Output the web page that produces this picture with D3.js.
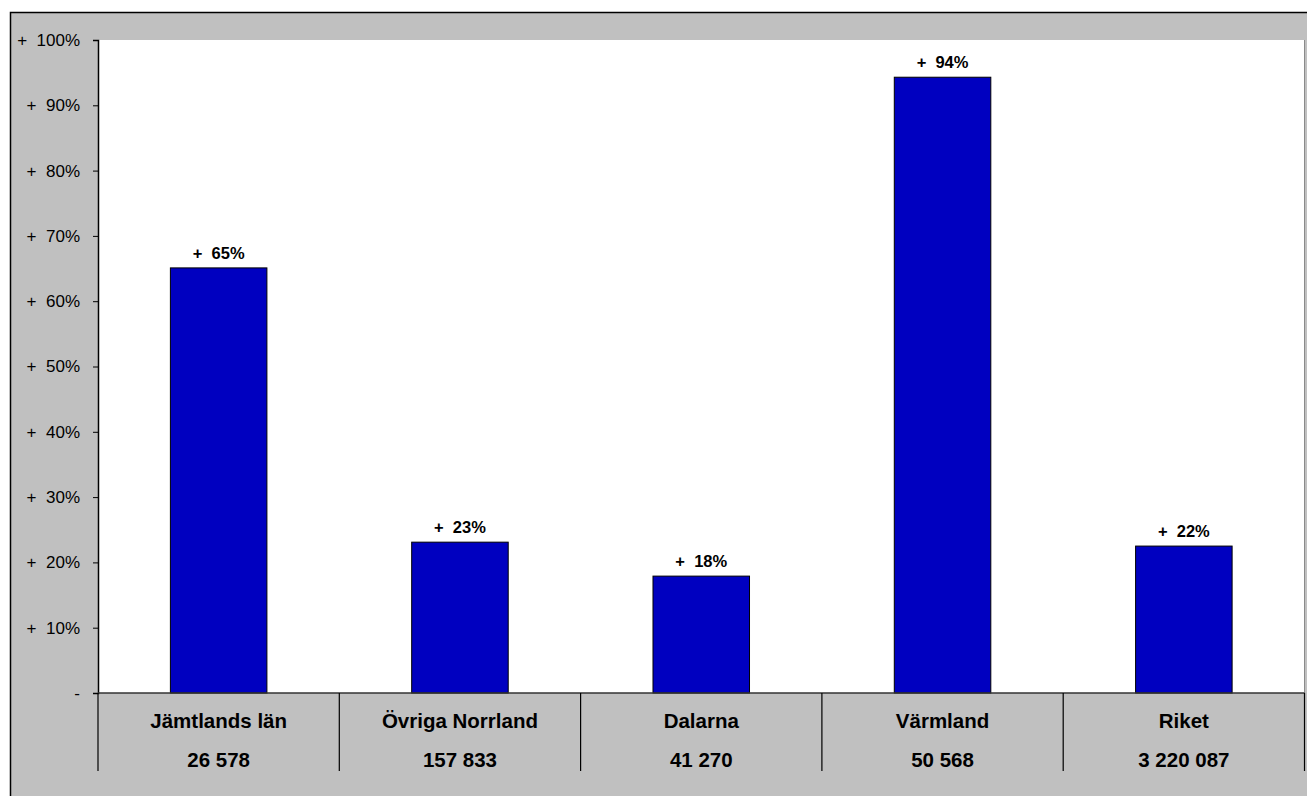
<!DOCTYPE html>
<html lang="en">
<head>
<meta charset="utf-8">
<title>Förändring per region</title>
<script src="https://d3js.org/d3.v7.min.js"></script>
<style>
  body { margin: 0; background: #fff; }
  text { font-family: Arial, "Liberation Sans", sans-serif; }
</style>
</head>
<body>
<script>
// data
var regions = ["Jämtlands län", "Övriga Norrland", "Dalarna", "Värmland", "Riket"];
var counts = ["26 578", "157 833", "41 270", "50 568", "3 220 087"];
var change = [65.1, 23.1, 17.9, 94.3, 22.5];
var changeLabels = ["+ 65%", "+ 23%", "+ 18%", "+ 94%", "+ 22%"];
var yTicks = [0, 10, 20, 30, 40, 50, 60, 70, 80, 90, 100];

var width = 1307, height = 796;
var plot = { left: 98, right: 1304.5, top: 40, bottom: 693 };

var svg = d3.select("body").append("svg")
    .attr("width", width)
    .attr("height", height);

// outer grey frame
svg.append("rect")
    .attr("x", 10.5).attr("y", 12.5)
    .attr("width", width).attr("height", height)
    .attr("fill", "#c0c0c0")
    .attr("stroke", "#000").attr("stroke-width", 1.5);

// plot area
svg.append("rect")
    .attr("x", plot.left).attr("y", plot.top)
    .attr("width", plot.right - plot.left)
    .attr("height", plot.bottom - plot.top)
    .attr("fill", "#fff");
svg.append("line")
    .attr("x1", plot.right).attr("x2", plot.right)
    .attr("y1", plot.top).attr("y2", plot.bottom)
    .attr("stroke", "#8a8a8a").attr("stroke-width", 1);

var x = d3.scaleBand().domain(regions).range([plot.left, plot.right]).paddingInner(0).paddingOuter(0);
var y = d3.scaleLinear().domain([0, 100]).range([plot.bottom, plot.top]);

// y axis
var yAxis = d3.axisLeft(y)
    .tickValues(yTicks)
    .tickSize(5)
    .tickPadding(13)
    .tickFormat(function(d) { return d === 0 ? "-" : "+  " + d + "%"; });

var gy = svg.append("g")
    .attr("transform", "translate(" + plot.left + ",0)")
    .call(yAxis);
gy.select(".domain").attr("stroke", "#000").attr("stroke-width", 1.5);
gy.selectAll(".tick line").attr("stroke", "#000");
gy.selectAll(".tick text")
    .attr("font-size", 17)
    .attr("fill", "#000")
    .attr("xml:space", "preserve")
    .style("white-space", "pre");

// bars
var barW = x.bandwidth() * 0.4;
svg.selectAll("rect.bar")
    .data(regions)
    .enter().append("rect")
    .attr("class", "bar")
    .attr("x", function(d) { return x(d) + (x.bandwidth() - barW) / 2; })
    .attr("y", function(d, i) { return y(change[i]); })
    .attr("width", barW)
    .attr("height", function(d, i) { return y(0) - y(change[i]); })
    .attr("fill", "#0000c0")
    .attr("stroke", "#000")
    .attr("stroke-width", 1);

// value labels
svg.selectAll("text.val")
    .data(regions)
    .enter().append("text")
    .attr("class", "val")
    .attr("x", function(d) { return x(d) + x.bandwidth() / 2; })
    .attr("y", function(d, i) { return y(change[i]) - 9; })
    .attr("text-anchor", "middle")
    .attr("font-size", 16.5)
    .attr("font-weight", "bold")
    .attr("xml:space", "preserve")
    .style("white-space", "pre")
    .text(function(d, i) { return changeLabels[i].replace("+ ", "+  "); });

// x axis baseline
svg.append("line")
    .attr("x1", plot.left).attr("x2", plot.right)
    .attr("y1", plot.bottom).attr("y2", plot.bottom)
    .attr("stroke", "#333").attr("stroke-width", 1.5);

// category separators
var seps = regions.map(function(d) { return x(d); }).concat([plot.right]);
svg.selectAll("line.sep")
    .data(seps)
    .enter().append("line")
    .attr("class", "sep")
    .attr("x1", function(d) { return d; })
    .attr("x2", function(d) { return d; })
    .attr("y1", plot.bottom)
    .attr("y2", 771)
    .attr("stroke", "#000")
    .attr("stroke-width", 1.2);

// category labels
svg.selectAll("text.cat")
    .data(regions)
    .enter().append("text")
    .attr("class", "cat")
    .attr("x", function(d) { return x(d) + x.bandwidth() / 2; })
    .attr("y", 728)
    .attr("text-anchor", "middle")
    .attr("font-size", 20.5)
    .attr("font-weight", "bold")
    .text(function(d) { return d; });

svg.selectAll("text.cnt")
    .data(regions)
    .enter().append("text")
    .attr("class", "cnt")
    .attr("x", function(d) { return x(d) + x.bandwidth() / 2; })
    .attr("y", 767)
    .attr("text-anchor", "middle")
    .attr("font-size", 20.5)
    .attr("font-weight", "bold")
    .text(function(d, i) { return counts[i]; });
</script>
</body>
</html>
